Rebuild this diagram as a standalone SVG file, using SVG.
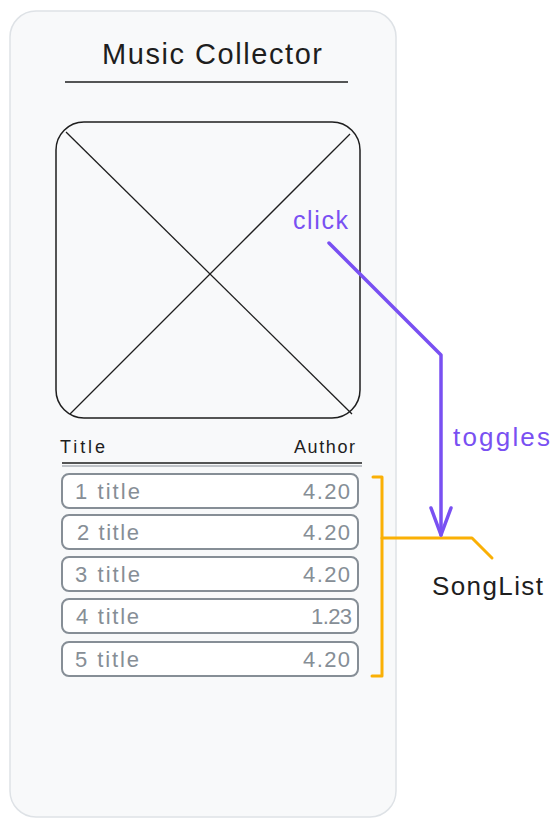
<svg xmlns="http://www.w3.org/2000/svg" width="560" height="828" viewBox="0 0 560 828">
<style>
.hand{font-family:"Liberation Sans","DejaVu Sans",sans-serif}
.row{fill:#ffffff;stroke:#868e96;stroke-width:2}
.rowt{font-family:"Liberation Sans",sans-serif;font-size:22px;fill:#868e96}
.ink{stroke:#1e1e1e;fill:none}
.vio{stroke:#7950f2;stroke-width:3.5;fill:none;stroke-linecap:round;stroke-linejoin:round}
.org{stroke:#fab005;stroke-width:3;fill:none;stroke-linecap:round;stroke-linejoin:round}
</style>
<rect width="560" height="828" fill="#ffffff"/>
<g id="frame">
<rect x="10" y="11" width="386" height="806" rx="26" fill="#f8f9fa" stroke="#dee2e6" stroke-width="1.5"/>
</g>
<g id="title">
<text x="102" y="64" textLength="220" class="hand" font-size="29" fill="#1e1e1e">Music Collector</text>
<line x1="65" y1="82" x2="348" y2="82" class="ink" stroke-width="1.5"/>
</g>
<g id="image">
<rect x="56" y="122" width="304" height="296" rx="28" class="ink" stroke-width="1.5"/>
<line x1="66" y1="132" x2="352" y2="414" class="ink" stroke-width="1.3"/>
<line x1="70" y1="414" x2="350" y2="134" class="ink" stroke-width="1.3"/>
</g>
<g id="header">
<text x="60" y="453" textLength="45" class="hand" font-size="18" fill="#1e1e1e">Title</text>
<text x="294" y="453" textLength="61" class="hand" font-size="18" fill="#1e1e1e">Author</text>
<line x1="62" y1="463" x2="362" y2="463" class="ink" stroke-width="1.5"/>
<line x1="62" y1="466" x2="362" y2="466" stroke="#868e96" stroke-width="1.2"/>
</g>
<g id="row1"><rect x="62" y="474" width="296" height="34" rx="7" class="row"/><text x="75" y="499" textLength="65" class="rowt">1 title</text><text x="303" y="499" textLength="47" class="rowt">4.20</text></g>
<g id="row2"><rect x="62" y="515" width="296" height="34" rx="7" class="row"/><text x="77" y="540" textLength="62" class="rowt">2 title</text><text x="303" y="540" textLength="47" class="rowt">4.20</text></g>
<g id="row3"><rect x="62" y="557" width="296" height="34" rx="7" class="row"/><text x="75" y="582" textLength="65" class="rowt">3 title</text><text x="303" y="582" textLength="47" class="rowt">4.20</text></g>
<g id="row4"><rect x="62" y="599" width="296" height="34" rx="7" class="row"/><text x="76" y="624" textLength="63" class="rowt">4 title</text><text x="311" y="624" textLength="41" class="rowt">1.23</text></g>
<g id="row5"><rect x="62" y="642" width="296" height="34" rx="7" class="row"/><text x="75" y="667" textLength="64" class="rowt">5 title</text><text x="303" y="667" textLength="47" class="rowt">4.20</text></g>
<g id="connectors">
<path d="M373 477 H382 V676 H372" class="org"/>
<path d="M382 538 H472 L492 558" class="org"/>
<path d="M329 243 L441 355 V535" class="vio"/>
<path d="M431 508 L441 535 L451 508" class="vio"/>
</g>
<g id="labels">
<text x="293" y="229" textLength="55" class="hand" font-size="25" fill="#7950f2">click</text>
<text x="453" y="446" textLength="97" class="hand" font-size="26" fill="#7950f2">toggles</text>
<text x="432" y="595" textLength="111" class="hand" font-size="26" fill="#1e1e1e">SongList</text>
</g>
</svg>
